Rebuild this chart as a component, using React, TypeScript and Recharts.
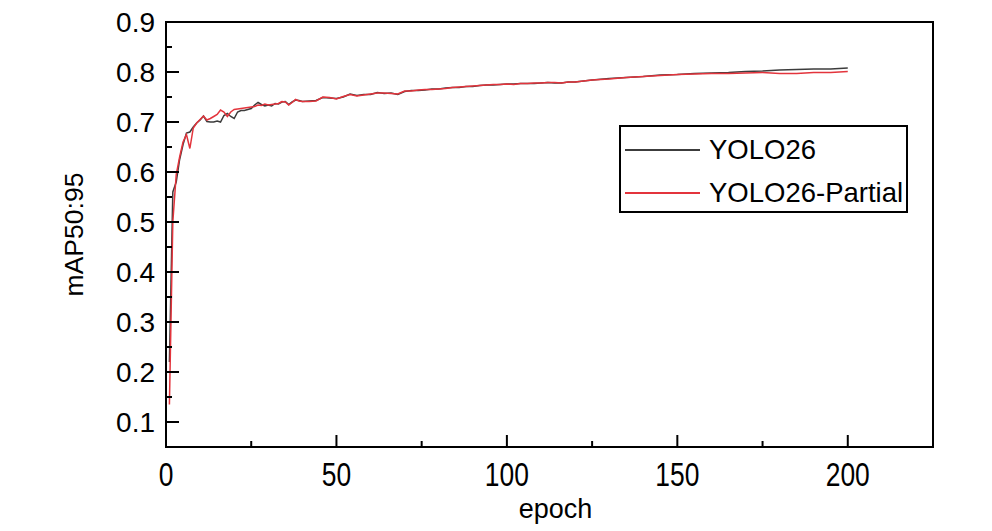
import React from 'react';
import { LineChart, Line, XAxis, YAxis, ReferenceArea, Legend } from 'recharts';

const epochs = [
  1, 2, 3, 4, 5, 6, 7, 8, 9, 10,
  11, 12, 13, 14, 15, 16, 17, 18, 19, 20,
  21, 22, 23, 24, 25, 26, 27, 28, 29, 30,
  31, 32, 33, 34, 35, 36, 37, 38, 39, 40,
  42, 44, 46, 48, 50, 52, 54, 56, 58, 60,
  62, 64, 66, 68, 70, 72, 74, 76, 78, 80,
  82, 84, 86, 88, 90, 92, 94, 96, 98, 100,
  102, 104, 106, 108, 110, 112, 114, 116, 118, 120,
  125, 130, 135, 140, 145, 150, 155, 160, 165, 170,
  175, 180, 185, 190, 195, 200,
];

const yolo26 = [
  0.22, 0.56, 0.58, 0.625, 0.655, 0.678, 0.68, 0.69, 0.698, 0.704,
  0.712, 0.701, 0.7, 0.7, 0.702, 0.7, 0.713, 0.717, 0.711, 0.707,
  0.72, 0.723, 0.723, 0.725, 0.727, 0.734, 0.739, 0.735, 0.732, 0.734,
  0.732, 0.737, 0.736, 0.74, 0.741, 0.735, 0.74, 0.744, 0.743, 0.741,
  0.742, 0.743, 0.749, 0.748, 0.747, 0.75, 0.756, 0.753, 0.755, 0.755,
  0.759, 0.757, 0.758, 0.755, 0.761, 0.763, 0.763, 0.764, 0.766, 0.766,
  0.768, 0.769, 0.769, 0.771, 0.771, 0.773, 0.774, 0.774, 0.775, 0.776,
  0.776, 0.777, 0.777, 0.777, 0.778, 0.779, 0.778, 0.778, 0.78, 0.78,
  0.784, 0.787, 0.789, 0.791, 0.794, 0.795, 0.797, 0.798, 0.799, 0.801,
  0.802, 0.804, 0.805, 0.806, 0.806, 0.808,
];

const partial = [
  0.135, 0.5, 0.595, 0.63, 0.66, 0.675, 0.647, 0.688, 0.698, 0.705,
  0.712, 0.704, 0.707, 0.711, 0.715, 0.724, 0.72, 0.711, 0.72, 0.725,
  0.726, 0.727, 0.728, 0.729, 0.73, 0.731, 0.734, 0.733, 0.736, 0.734,
  0.735, 0.736, 0.737, 0.741, 0.74, 0.734, 0.739, 0.745, 0.742, 0.741,
  0.741, 0.742, 0.75, 0.749, 0.746, 0.751, 0.755, 0.752, 0.754, 0.756,
  0.758, 0.758, 0.757, 0.756, 0.762, 0.762, 0.764, 0.765, 0.765, 0.766,
  0.767, 0.769, 0.77, 0.771, 0.772, 0.773, 0.774, 0.775, 0.775, 0.776,
  0.775, 0.777, 0.777, 0.778, 0.778, 0.779, 0.779, 0.778, 0.78, 0.78,
  0.784, 0.786, 0.789, 0.791, 0.793, 0.795, 0.796, 0.797, 0.797, 0.798,
  0.799, 0.797, 0.797, 0.799, 0.799, 0.801,
];

const seriesNames = ['YOLO26', 'YOLO26-Partial'];
const seriesColors = ['#3c3c3c', '#e3343c'];

const xTicks = [0, 25, 50, 75, 100, 125, 150, 175, 200];
const xMajor = [0, 50, 100, 150, 200];
const yTicks = [0.1, 0.15, 0.2, 0.25, 0.3, 0.35, 0.4, 0.45, 0.5, 0.55, 0.6, 0.65, 0.7, 0.75, 0.8, 0.85, 0.9];
const yMajor = [0.1, 0.2, 0.3, 0.4, 0.5, 0.6, 0.7, 0.8, 0.9];

const data = epochs.map((e, i) => ({ epoch: e, yolo26: yolo26[i], partial: partial[i] }));

const FONT = "'Liberation Sans', Arial, sans-serif";

const isIn = (arr: number[], v: number) => arr.some((a) => Math.abs(a - v) < 1e-6);

const YTick = (props: any) => {
  const { x, y, payload } = props;
  const major = isIn(yMajor, payload.value);
  return (
    <g>
      <line x1={x} x2={x + (major ? 13 : 6)} y1={y} y2={y} stroke="#000" strokeWidth={2} />
      {major && (
        <text x={x - 11} y={y + 10} textAnchor="end" fontFamily={FONT} fontSize={28} fill="#000">
          {payload.value.toFixed(1)}
        </text>
      )}
    </g>
  );
};

const XTick = (props: any) => {
  const { x, y, payload } = props;
  const major = isIn(xMajor, payload.value);
  return (
    <g>
      <line x1={x} x2={x} y1={y} y2={y - (major ? 12 : 6)} stroke="#000" strokeWidth={2} />
      {major && (
        <g transform={`translate(${x},${y + 39}) scale(0.8,1)`}>
          <text x={0} y={0} textAnchor="middle" fontFamily={FONT} fontSize={33} fill="#000">
            {String(payload.value)}
          </text>
        </g>
      )}
    </g>
  );
};

const YLabel = (props: any) => {
  const vb = props.viewBox || { x: 100, y: 22, width: 66, height: 425 };
  const cx = vb.x - 17;
  const cy = vb.y + vb.height / 2;
  return (
    <text
      x={cx}
      y={cy}
      transform={`rotate(-90, ${cx}, ${cy})`}
      textAnchor="middle"
      fontFamily={FONT}
      fontSize={26.5}
      fill="#000"
    >
      mAP50:95
    </text>
  );
};

const XLabel = (props: any) => {
  const vb = props.viewBox || { x: 166, y: 447, width: 767, height: 84 };
  return (
    <text
      x={vb.x + vb.width / 2 + 6}
      y={518}
      textAnchor="middle"
      fontFamily={FONT}
      fontSize={27}
      fill="#000"
    >
      epoch
    </text>
  );
};

const LegendBox = (props: any) => {
  const payload = props.payload || [];
  return (
    <div
      style={{
        width: 289,
        height: 88,
        border: '2px solid #000',
        boxSizing: 'border-box',
        background: '#fff',
        position: 'relative',
      }}
    >
      {payload.map((p: any, i: number) => (
        <div
          key={p.value}
          style={{
            position: 'absolute',
            left: 4,
            top: i === 0 ? 7 : 50,
            height: 32,
            display: 'flex',
            alignItems: 'center',
            fontFamily: FONT,
            fontSize: 27.5,
            color: '#000',
            whiteSpace: 'nowrap',
          }}
        >
          <span style={{ display: 'inline-block', width: 75, height: 2, background: p.color, marginRight: 9 }} />
          <span>{p.value}</span>
        </div>
      ))}
    </div>
  );
};

export default function App() {
  return (
    <div style={{ position: 'absolute', left: 0, top: 0, width: 992, height: 531, background: '#fff' }}>
      <LineChart
        width={992}
        height={531}
        data={data}
        margin={{ top: 22, right: 59, bottom: 0, left: 100 }}
      >
        <XAxis
          dataKey="epoch"
          type="number"
          domain={[0, 225]}
          ticks={xTicks}
          interval={0}
          tick={<XTick />}
          tickLine={false}
          tickSize={0}
          tickMargin={0}
          height={84}
          axisLine={{ stroke: '#000', strokeWidth: 2 }}
          allowDataOverflow
          label={<XLabel />}
        />
        <YAxis
          type="number"
          domain={[0.05, 0.9]}
          ticks={yTicks}
          interval={0}
          tick={<YTick />}
          tickLine={false}
          tickSize={0}
          tickMargin={0}
          width={66}
          axisLine={{ stroke: '#000', strokeWidth: 2 }}
          allowDataOverflow
          label={<YLabel />}
        />
        <ReferenceArea x1={0} x2={225} y1={0.05} y2={0.9} fill="none" stroke="#000" strokeWidth={2} />
        <Line
          type="linear"
          dataKey="yolo26"
          name={seriesNames[0]}
          stroke={seriesColors[0]}
          strokeWidth={1.5}
          dot={false}
          isAnimationActive={false}
        />
        <Line
          type="linear"
          dataKey="partial"
          name={seriesNames[1]}
          stroke={seriesColors[1]}
          strokeWidth={1.5}
          dot={false}
          isAnimationActive={false}
        />
        <Legend
          layout="vertical"
          align="center"
          verticalAlign="middle"
          content={<LegendBox />}
          wrapperStyle={{ position: 'absolute', left: 619, top: 125, width: 289, height: 88 }}
        />
      </LineChart>
    </div>
  );
}
